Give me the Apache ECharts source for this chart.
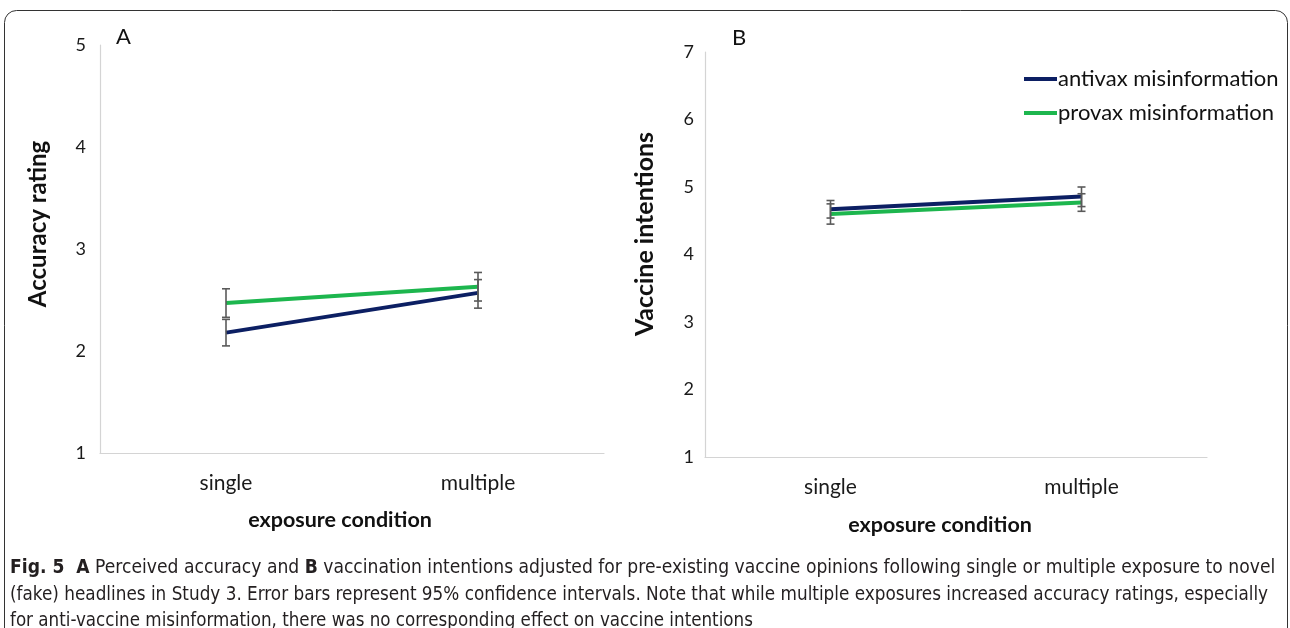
<!DOCTYPE html>
<html>
<head>
<meta charset="utf-8">
<script src="https://cdn.jsdelivr.net/npm/echarts@6/dist/echarts.min.js"></script>
<style>
html,body{margin:0;padding:0;background:#fff;}
#chart{width:1290px;height:628px;}
</style>
</head>
<body>
<div id="chart"></div>
<script>
const categories = ['single', 'multiple'];
const seriesNames = ['antivax misinformation', 'provax misinformation'];

// Panel A: accuracy rating
const accAntivax = [2.18, 2.57];
const accAntivaxLow = [2.05, 2.42];
const accAntivaxHigh = [2.31, 2.70];
const accProvax = [2.47, 2.63];
const accProvaxLow = [2.33, 2.49];
const accProvaxHigh = [2.61, 2.77];

// Panel B: vaccine intentions
const vacAntivax = [4.67, 4.86];
const vacAntivaxLow = [4.54, 4.71];
const vacAntivaxHigh = [4.80, 5.00];
const vacProvax = [4.60, 4.77];
const vacProvaxLow = [4.45, 4.64];
const vacProvaxHigh = [4.75, 4.90];

const yRangeA = [1, 5];
const yRangeB = [1, 7];

const captionLine1 = 'Perceived accuracy and ';
const captionLine1b = 'vaccination intentions adjusted for pre-existing vaccine opinions following single or multiple exposure to novel';
const captionLine2 = '(fake) headlines in Study 3. Error bars represent 95% confidence intervals. Note that while multiple exposures increased accuracy ratings, especially';
const captionLine3 = 'for anti-vaccine misinformation, there was no corresponding effect on vaccine intentions';

const BLUE = '#0c1f63';
const GREEN = '#1db64e';
const FONT = 'Lato, "Open Sans", sans-serif';
const CAPFONT = '"DejaVu Sans Condensed", "DejaVu Sans", sans-serif';

function errData(low, high) {
  return categories.map((c, i) => [i, low[i], high[i]]);
}
function renderErr(params, api) {
  const x = api.value(0);
  const lo = api.coord([x, api.value(1)]);
  const hi = api.coord([x, api.value(2)]);
  const w = 4;
  const style = { stroke: '#5a5a5a', lineWidth: 1.6 };
  return {
    type: 'group',
    children: [
      { type: 'line', shape: { x1: lo[0], y1: lo[1], x2: hi[0], y2: hi[1] }, style },
      { type: 'line', shape: { x1: lo[0] - w, y1: lo[1], x2: lo[0] + w, y2: lo[1] }, style },
      { type: 'line', shape: { x1: hi[0] - w, y1: hi[1], x2: hi[0] + w, y2: hi[1] }, style }
    ]
  };
}

function xAxis(gridIndex) {
  return {
    type: 'category', gridIndex, data: categories, boundaryGap: true,
    axisLine: { show: true, lineStyle: { color: '#d4d4d4', width: 1.2 } },
    axisTick: { show: false },
    axisLabel: { fontFamily: FONT, fontSize: 21, color: '#1a1a1a', margin: 20 },
    splitLine: { show: false }
  };
}
function yAxis(gridIndex, range, margin) {
  return {
    type: 'value', gridIndex, min: range[0], max: range[1], interval: 1,
    axisLine: { show: true, lineStyle: { color: '#d4d4d4', width: 1.2 } },
    axisTick: { show: false },
    axisLabel: { fontFamily: FONT, fontSize: 18, color: '#1a1a1a', margin },
    splitLine: { show: false }
  };
}
function lineSeries(name, data, xi, yi, color) {
  return {
    name, type: 'line', xAxisIndex: xi, yAxisIndex: yi, data,
    symbol: 'none', color,
    lineStyle: { color, width: 4 }, z: 3, animation: false
  };
}
function errSeries(name, low, high, xi, yi) {
  return {
    name, type: 'custom', xAxisIndex: xi, yAxisIndex: yi,
    data: errData(low, high), renderItem: renderErr, z: 5, animation: false,
    silent: true
  };
}

const chart = echarts.init(document.getElementById('chart'), null, { renderer: 'canvas' });
chart.setOption({
  animation: false,
  backgroundColor: '#fff',
  grid: [
    { left: 100, top: 45, width: 504, height: 408 },
    { left: 705, top: 52, width: 502, height: 405 }
  ],
  xAxis: [xAxis(0), xAxis(1)],
  yAxis: [yAxis(0, yRangeA, 14), yAxis(1, yRangeB, 11)],
  legend: {
    data: seriesNames, orient: 'vertical', left: 1019, top: 63,
    icon: 'rect', itemWidth: 33, itemHeight: 4, itemGap: 12,
    textStyle: { fontFamily: FONT, fontSize: 22, color: '#111', padding: [0, 0, 0, -4] }
  },
  series: [
    lineSeries(seriesNames[0], accAntivax, 0, 0, BLUE),
    lineSeries(seriesNames[1], accProvax, 0, 0, GREEN),
    errSeries(seriesNames[0], accAntivaxLow, accAntivaxHigh, 0, 0),
    errSeries(seriesNames[1], accProvaxLow, accProvaxHigh, 0, 0),
    lineSeries(seriesNames[0], vacAntivax, 1, 1, BLUE),
    lineSeries(seriesNames[1], vacProvax, 1, 1, GREEN),
    errSeries(seriesNames[0], vacAntivaxLow, vacAntivaxHigh, 1, 1),
    errSeries(seriesNames[1], vacProvaxLow, vacProvaxHigh, 1, 1)
  ],
  graphic: [
    { type: 'rect', shape: { x: 4.5, y: 10.5, width: 1283, height: 640, r: 12 },
      style: { fill: 'none', stroke: '#333', lineWidth: 1 }, z: -1 },
    { type: 'text', x: 116, y: 37, style: { text: 'A', fontFamily: FONT, fontSize: 22, fill: '#111', verticalAlign: 'middle' } },
    { type: 'text', x: 732, y: 38, style: { text: 'B', fontFamily: FONT, fontSize: 22, fill: '#111', verticalAlign: 'middle' } },
    { type: 'text', x: 38, y: 224, rotation: Math.PI / 2, style: { text: 'Accuracy rating', fontFamily: FONT, fontSize: 24, fontWeight: 'bold', fill: '#111', align: 'center', verticalAlign: 'middle' } },
    { type: 'text', x: 645, y: 234, rotation: Math.PI / 2, style: { text: 'Vaccine intentions', fontFamily: FONT, fontSize: 25, fontWeight: 'bold', fill: '#111', align: 'center', verticalAlign: 'middle' } },
    { type: 'text', x: 340, y: 520, style: { text: 'exposure condition', fontFamily: FONT, fontSize: 21.5, fontWeight: 'bold', fill: '#111', align: 'center', verticalAlign: 'middle' } },
    { type: 'text', x: 940, y: 525, style: { text: 'exposure condition', fontFamily: FONT, fontSize: 21.5, fontWeight: 'bold', fill: '#111', align: 'center', verticalAlign: 'middle' } },
    { type: 'text', x: 10, y: 568, scaleX: 0.955, style: {
        text: '{b|Fig. 5  A} ' + captionLine1 + '{b|B} ' + captionLine1b,
        fontFamily: CAPFONT, fontSize: 20, fill: '#231f20', verticalAlign: 'middle',
        rich: { b: { fontWeight: 'bold', fontFamily: CAPFONT, fontSize: 20, fill: '#231f20' } }
    } },
    { type: 'text', x: 10, y: 595, scaleX: 0.937, style: { text: captionLine2, fontFamily: CAPFONT, fontSize: 20, fill: '#231f20', verticalAlign: 'middle' } },
    { type: 'text', x: 10, y: 621, scaleX: 0.93, style: { text: captionLine3, fontFamily: CAPFONT, fontSize: 20, fill: '#231f20', verticalAlign: 'middle' } }
  ]
});
</script>
</body>
</html>
